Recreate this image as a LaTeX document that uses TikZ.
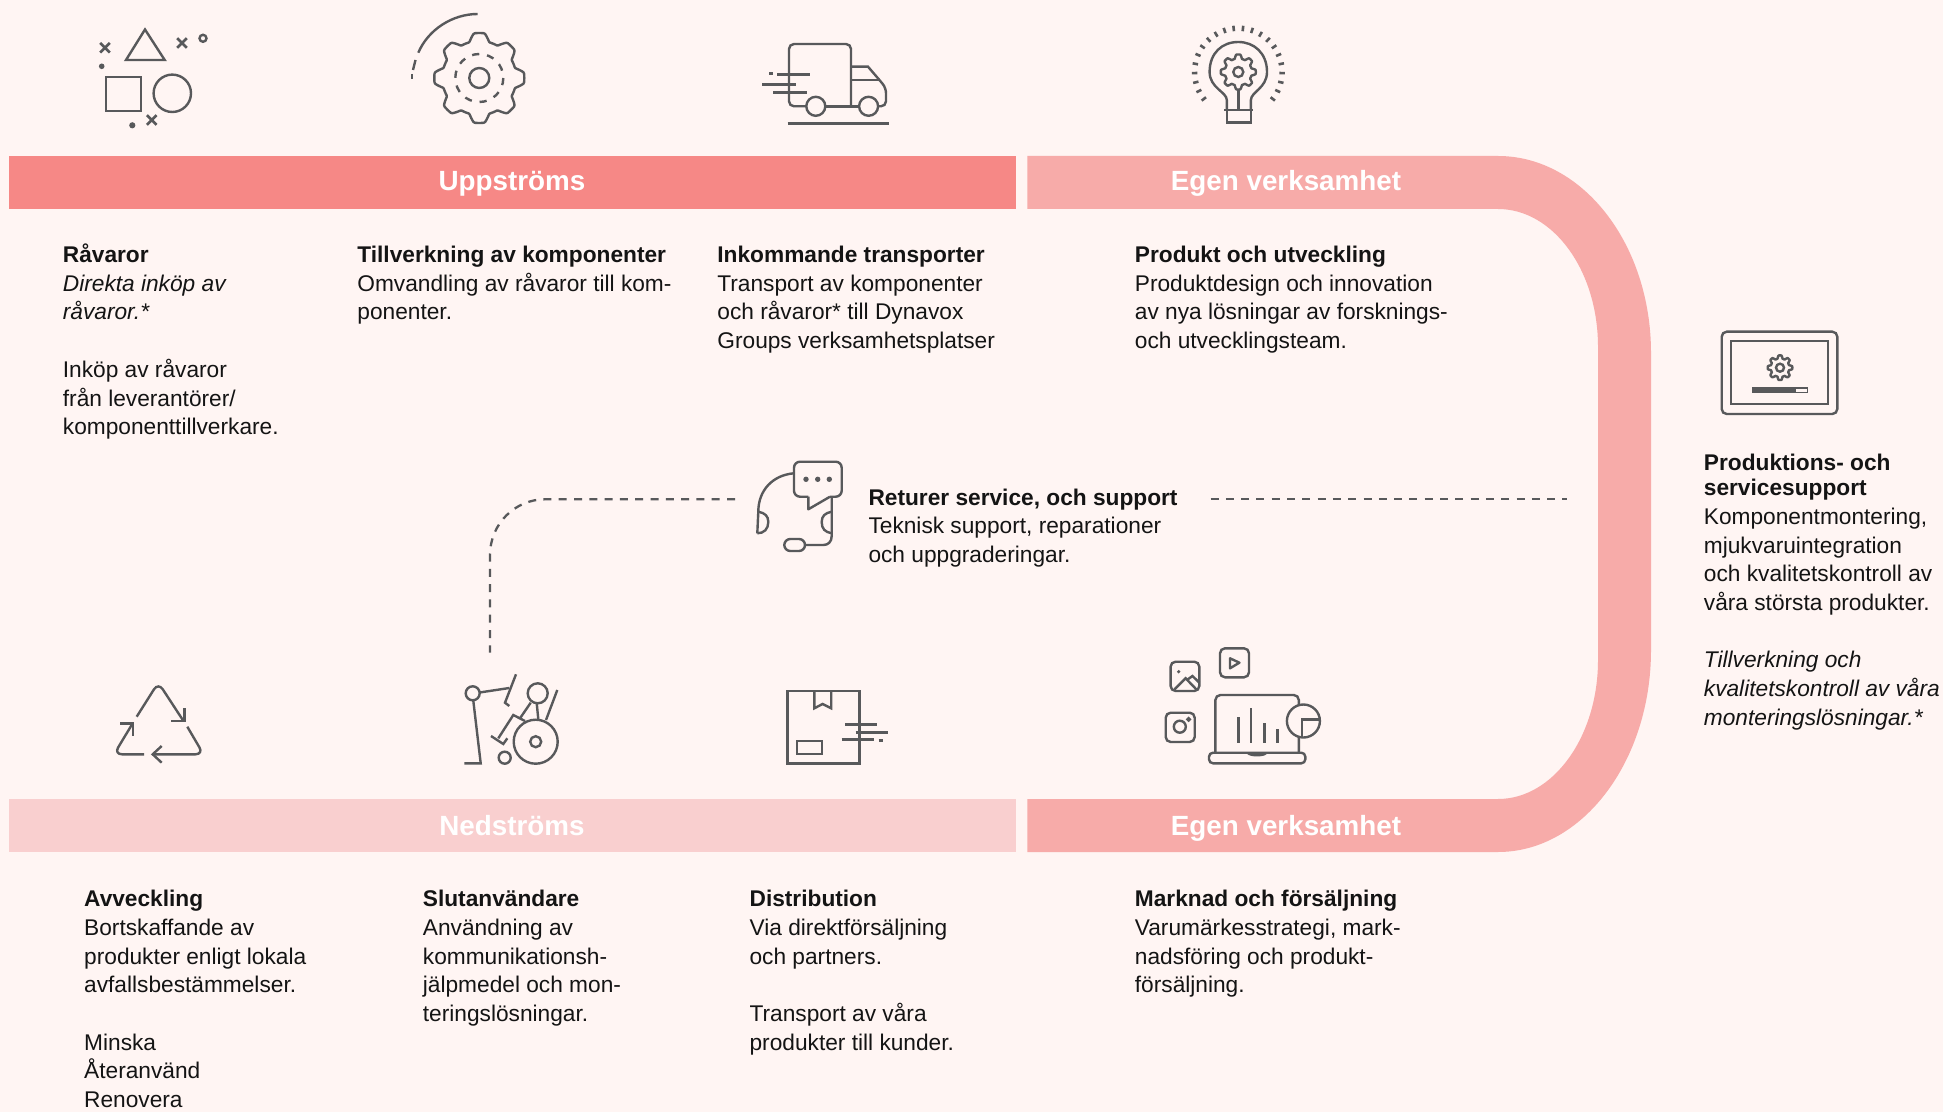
\documentclass[tikz,border=0pt]{standalone}
\usepackage{fontspec}
\setmainfont{Liberation Sans}
\definecolor{bgC}{HTML}{FFF5F3}
\definecolor{upC}{HTML}{F68886}
\definecolor{egC}{HTML}{F7ABA9}
\definecolor{neC}{HTML}{F9CFCF}
\definecolor{icC}{HTML}{58595B}
\definecolor{txC}{HTML}{141414}
\newcommand\blk[4]{\node[txtblock] (#1) at (#2-0.5,#3-25.2) {\rule{0pt}{12pt}#4};}
\newcommand\gearico[5]{\draw[ic,line join=round] plot[samples=193,domain=0:360,variable=\x] ({#1+(#4+(#3-#4)*(0.5+0.5*max(min(1.7*cos(#5*\x),1),-1)))*cos(\x)},{#2+(#4+(#3-#4)*(0.5+0.5*max(min(1.7*cos(#5*\x),1),-1)))*sin(\x)}) -- cycle;}
\newcommand\crossico[3]{\draw[ic,line width=1.35pt] (#1-#3,#2-#3) -- (#1+#3,#2+#3) (#1-#3,#2+#3) -- (#1+#3,#2-#3);}
\tikzset{
  ic/.style={draw=icC,line width=1.2pt},
  thick line/.style={draw=icC,line width=1.4pt},
  txtblock/.style={align=left,anchor=north west,inner sep=0pt,text=txC,font=\fontsize{11.35}{14.35}\selectfont},
  bandlabel/.style={anchor=base,inner sep=0pt,text=white,font=\fontsize{13.9}{16}\selectfont\bfseries},
  barbox/.style={anchor=north west,inner sep=0pt,minimum height=26.5pt,minimum width=503.4pt},
  dashline/.style={draw=icC,line width=1.15pt,dash pattern=on 4pt off 3.65pt}
}
\begin{document}
\begin{tikzpicture}[x=0.5pt,y=-0.5pt]
\useasboundingbox (0,0) rectangle (1943,1112);
\fill[bgC] (0,0) rectangle (1943,1112);

% bands
\node[barbox,fill=upC] (uppbar) at (9,156) {};
\node[barbox,fill=neC] (nedbar) at (9,799) {};
\fill[egC] (1027.3,156) -- (1498,156) .. controls (1582.5,156) and (1651,244) .. (1651,353)
  -- (1651,650) .. controls (1651,761) and (1582.5,852) .. (1498,852)
  -- (1027.3,852) -- (1027.3,799) -- (1498,799)
  .. controls (1553,799) and (1598,737) .. (1598,660)
  -- (1598,347) .. controls (1598,270) and (1553,209) .. (1498,209)
  -- (1027.3,209) -- cycle;
\node[bandlabel] (upp) at (512,191) {Uppströms};
\node[bandlabel] (ned) at (512,835) {Nedströms};
\node[bandlabel] (egenA) at (1286,191) {Egen verksamhet};
\node[bandlabel] (egenB) at (1286,835) {Egen verksamhet};

% texts
\blk{ravaror}{63}{263.3}{\textbf{Råvaror}\\\textit{Direkta inköp av}\\\textit{råvaror.*}\\\mbox{}\\Inköp av råvaror\\från leverantörer/\\komponenttillverkare.}
\blk{tillv}{357.5}{263.3}{\textbf{Tillverkning av komponenter}\\Omvandling av råvaror till kom-\\ponenter.}
\blk{inkom}{717.5}{263.3}{\textbf{Inkommande transporter}\\Transport av komponenter\\och råvaror* till Dynavox\\Groups verksamhetsplatser}
\blk{prod}{1135}{263.3}{\textbf{Produkt och utveckling}\\Produktdesign och innovation\\av nya lösningar av forsknings-\\och utvecklingsteam.}
\blk{retur}{868.6}{506}{\textbf{Returer service, och support}\\Teknisk support, reparationer\\och uppgraderingar.}
\blk{prodserv}{1704}{471.7}{\textbf{Produktions- och}\\[-1.95pt]\textbf{servicesupport}\\Komponentmontering,\\mjukvaruintegration\\och kvalitetskontroll av\\våra största produkter.\\\mbox{}\\\textit{Tillverkning och}\\\textit{kvalitetskontroll av våra}\\\textit{monteringslösningar.*}}
\blk{avv}{84.3}{907.5}{\textbf{Avveckling}\\Bortskaffande av\\produkter enligt lokala\\avfallsbestämmelser.\\\mbox{}\\Minska\\Återanvänd\\Renovera}
\blk{slut}{423}{907.5}{\textbf{Slutanvändare}\\Användning av\\kommunikationsh-\\jälpmedel och mon-\\teringslösningar.}
\blk{distr}{749.7}{907.5}{\textbf{Distribution}\\Via direktförsäljning\\och partners.\\\mbox{}\\Transport av våra\\produkter till kunder.}
\blk{mark}{1135}{907.5}{\textbf{Marknad och försäljning}\\Varumärkesstrategi, mark-\\nadsföring och produkt-\\försäljning.}

% dashed connectors
\coordinate (dashA) at (735,499.3);
\coordinate (dashB) at (490,652.7);
\coordinate (dashC) at (1210.5,499.3);
\coordinate (dashD) at (1567,499.3);
\draw[dashline] (dashA) -- (545,499.3) .. controls (515,499.3) and (490,524) .. (490,555) -- (dashB);
\draw[dashline] (dashC) -- (dashD);

% icon: raw materials
\draw[ic] (145,29.5) -- (126,60) -- (164.7,60) -- cycle;
\draw[ic] (106,77) rectangle (140.7,111);
\draw[ic] (172.3,93.3) circle[radius=18.7];
\crossico{105}{47.7}{4.8}
\crossico{182}{43}{4.8}
\crossico{151.7}{120}{4.8}
\draw[ic] (203,38.3) circle[radius=3.5];
\fill[icC] (101.7,66.3) circle[radius=2.8];
\fill[icC] (132.3,125.3) circle[radius=3.1];

% icon: gear with arc
\gearico{479.3}{78}{45}{37}{8}
\draw[ic] (479.3,78) circle[radius=10];
\draw[ic,dash pattern=on 3.6pt off 3.95pt] (479.3,78) circle[radius=24];
\draw[ic] (477.7,14) .. controls (452,14) and (428,30) .. (418.3,52.7);
\draw[ic] (415.5,60) -- (413,70);
\draw[ic] (412,74) -- (412,79.5);

% icon: truck
\draw[ic,rounded corners=2.5pt] (806,106.3) -- (789,106.3) -- (789,44) -- (851,44) -- (851,106.3);
\draw[thick line] (825.3,106.3) -- (859,106.3);
\draw[ic] (851,66.7) -- (868,66.7) -- (879.7,80.3);
\draw[ic,rounded corners=2.5pt] (879.7,80.3) -- (886,88) -- (886,106.3) -- (878,106.3);
\draw[ic] (851,80.3) -- (879.7,80.3);
\draw[ic] (815.8,106.3) circle[radius=9.5];
\draw[ic] (868.6,106.3) circle[radius=9.5];
\draw[thick line] (787.5,123.3) -- (888.5,123.3);
\draw[thick line] (777,74.3) -- (809.7,74.3);
\draw[thick line] (769,73.3) -- (772.5,73.3);
\draw[thick line] (762,84.3) -- (795.5,84.3);
\draw[thick line] (773.3,92.3) -- (806.6,92.3);

% icon: bulb
\draw[ic] (1226.8,110) -- (1226.8,100) .. controls (1226.8,92) and (1209.6,88) .. (1209.6,72)
  .. controls (1209.6,53) and (1222,42) .. (1238.3,42) .. controls (1254,42) and (1267,53) .. (1267,72)
  .. controls (1267,88) and (1250.9,92) .. (1250.9,100) -- (1250.9,110);
\draw[thick line] (1224,110) -- (1253,110);
\draw[ic] (1226.8,110) -- (1226.8,122.7) -- (1250.9,122.7) -- (1250.9,110);
\draw[ic] (1238.3,89) -- (1238.3,110);
\gearico{1238.3}{72}{17.5}{13.5}{8}
\draw[ic] (1238.3,72) circle[radius=5];
\foreach \k in {0,...,21}{
  \pgfmathsetmacro\ang{-38+\k*12.19}
  \draw[ic,line width=1.3pt] ({1238.3+41*cos(\ang)},{72-41*sin(\ang)}) -- ({1238.3+46.5*cos(\ang)},{72-46.5*sin(\ang)});
}

% icon: headset
\draw[ic,rounded corners=3pt] (808.3,496.7) -- (794,496.7) -- (794,461.7) -- (841.7,461.7) -- (841.7,496.7) -- (830,496.7);
\draw[ic,line join=round] (808.3,496.7) -- (808.3,509.3) -- (830,496.7);
\fill[icC] (806,479.3) circle[radius=2.7];
\fill[icC] (817.7,479.3) circle[radius=2.7];
\fill[icC] (829.3,479.3) circle[radius=2.7];
\draw[ic] (794,473.3) .. controls (773,475) and (758.3,490) .. (758.3,511.7) -- (757.3,533.3);
\draw[ic] (758.3,511.7) .. controls (765,513) and (768.3,516) .. (768.3,522) .. controls (768.3,529) and (764,533.3) .. (757.3,533.3);
\draw[ic] (831.7,496.7) -- (831.7,536) .. controls (831.7,542) and (828,545) .. (823.3,545) -- (805,545);
\draw[ic] (831.7,511.7) .. controls (825,513) and (821.7,516) .. (821.7,522) .. controls (821.7,529) and (825,532) .. (831.7,533.3);
\draw[ic,rounded corners=3pt] (784.3,539) rectangle (805,551);

% icon: tablet
\draw[ic,rounded corners=2.5pt] (1721.7,331.7) rectangle (1837.3,414);
\draw[ic] (1730.7,341) rectangle (1827.7,404.3);
\gearico{1780}{367.7}{12.3}{9.3}{8}
\draw[ic] (1780,367.7) circle[radius=4];
\fill[icC] (1751.7,386.7) rectangle (1808.3,393.3);
\fill[bgC] (1796,388.7) rectangle (1806.7,391.7);

% icon: recycle
\draw[ic,rounded corners=4pt] (136.7,716.7) -- (158.3,682.5) -- (183.3,720.7);
\draw[ic] (184.3,708) -- (184.3,720.7) -- (171.3,720.7);
\draw[ic,rounded corners=4pt] (187.3,726.7) -- (203.5,754.3) -- (152.7,754.3);
\draw[ic] (161.7,746) -- (152.7,754.3) -- (161.7,762.7);
\draw[ic,rounded corners=4pt] (144,754.3) -- (114,754.3) -- (132.7,723.3);
\draw[ic] (120,723.3) -- (132.7,723.3) -- (132.7,736);

% icon: wheelchair
\draw[ic] (472.7,693.3) circle[radius=7];
\draw[ic] (479.6,692.5) -- (509.3,688);
\draw[ic] (516,674.3) -- (505,702.7) -- (509.3,706);
\draw[ic] (473.3,700.7) -- (480.7,763.3) -- (464.3,763.3);
\draw[ic] (537.7,693.3) circle[radius=10];
\draw[ic] (535.7,741.7) circle[radius=22];
\draw[ic] (535.7,741.7) circle[radius=5.5];
\draw[ic] (504.7,757.7) circle[radius=6];
\draw[ic] (530.7,702.7) -- (520,718.3);
\draw[ic] (536.7,703) -- (538.3,719.3);
\draw[ic] (557.3,690) -- (546,720);
\draw[ic] (525,721) -- (513.3,715) -- (498.3,738.3);
\draw[ic] (491,736) -- (503.3,744) -- (507.3,738.3);

% icon: parcel
\draw[ic] (787.6,691) rectangle (859.5,763.3);
\draw[ic] (814.3,691) -- (814.3,708.3) -- (822.6,704) -- (831.2,708.3) -- (831.2,691);
\draw[ic] (797,741) rectangle (822,754);
\draw[thick line] (845,724.3) -- (877,724.3);
\draw[thick line] (855.7,732.3) -- (888.2,732.3);
\draw[thick line] (841.5,739.3) -- (874,739.3);
\draw[thick line] (878.6,740.3) -- (882.5,740.3);

% icon: media
\draw[ic,rounded corners=2.5pt] (1215.4,752.7) -- (1215.4,695) -- (1298.8,695) -- (1298.8,752.7);
\draw[ic,rounded corners=2pt] (1209,752.7) -- (1209,763.3) -- (1305.3,763.3) -- (1305.3,752.7) -- cycle;
\draw[ic,fill=bgC] (1303.4,721) circle[radius=16.5];
\draw[ic] (1302,738) -- (1302,719.5) -- (1320,719.5);
\draw[ic] (1248,753) .. controls (1250,756) and (1264,756) .. (1266,753);
\draw[ic] (1238.4,717.3) -- (1238.4,742.7);
\draw[ic] (1251,708.3) -- (1251,742.7);
\draw[ic] (1264.4,723.3) -- (1264.4,743.3);
\draw[ic] (1277.4,729.3) -- (1277.4,742.7);
\draw[ic,rounded corners=2.5pt] (1170.6,661.7) rectangle (1199.3,691);
\fill[icC] (1178.7,671.7) circle[radius=1.8];
\draw[ic] (1174.5,689.3) -- (1185.6,678.3) -- (1196.3,689.3);
\draw[ic] (1186.8,680) -- (1192.5,676) -- (1199.3,682.7);
\draw[ic,rounded corners=2.5pt] (1220,648.3) rectangle (1249,677.3);
\draw[ic,line join=round] (1230,658.3) -- (1239.4,662.7) -- (1230,668.3) -- cycle;
\draw[ic,rounded corners=2.5pt] (1165.7,712.7) rectangle (1194.7,742);
\draw[ic] (1179.8,726.7) circle[radius=6];
\draw[ic] (1188.6,719.3) circle[radius=1.2];
\end{tikzpicture}
\end{document}
